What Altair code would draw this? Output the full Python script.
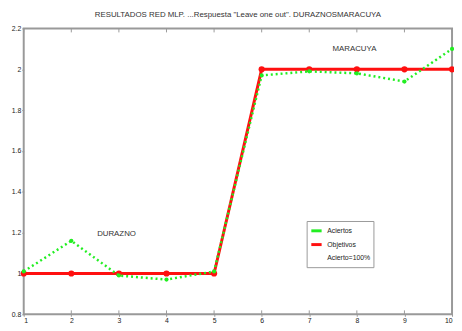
import altair as alt
import pandas as pd

x_vals = [1, 2, 3, 4, 5, 6, 7, 8, 9, 10]
aciertos = [1.01, 1.16, 0.99, 0.97, 1.01, 1.97, 1.99, 1.98, 1.94, 2.1]
objetivos = [1, 1, 1, 1, 1, 2, 2, 2, 2, 2]
legend_names = ["Aciertos", "Objetivos", "Acierto=100%"]
legend_colors = ["#22ee22", "#ff1010", "white"]
labels_txt = ["DURAZNO", "MARACUYA"]
labels_x = [2.95, 7.95]
labels_y = [1.195, 2.1]

df_g = pd.DataFrame({"x": x_vals, "y": aciertos, "s": "Aciertos"})
df_r = pd.DataFrame({"x": x_vals, "y": objetivos, "s": "Objetivos"})
df_t = pd.DataFrame({"x": labels_x, "y": labels_y, "t": labels_txt})
df_ticks = pd.DataFrame({"x": x_vals})

FONT = "Liberation Sans"
H = 291
xs = alt.Scale(domain=[1, 10], nice=False)
ys = alt.Scale(domain=[0.8, 2.2], nice=False)
color = alt.Color(
    "s:N",
    scale=alt.Scale(domain=legend_names, range=legend_colors),
    legend=alt.Legend(
        title=None, orient="none", legendX=288, legendY=196,
        symbolType="stroke", symbolStrokeWidth=3, symbolSize=110,
        labelFont=FONT, labelFontSize=7, labelColor="#222",
        fillColor="white", strokeColor="#999", padding=3, rowPadding=1,
    ),
)
X = alt.X("x:Q", scale=xs, axis=alt.Axis(values=x_vals, title=None, grid=False,
          labelFont=FONT, labelFontSize=7, tickSize=2, domain=False, labelPadding=0))
Y = alt.Y("y:Q", scale=ys, axis=alt.Axis(values=[0.8, 1, 1.2, 1.4, 1.6, 1.8, 2, 2.2],
          format="~g", title=None, grid=False, labelFont=FONT, labelFontSize=7, tickSize=2,
          domain=False, labelPadding=1))

red_line = alt.Chart(df_r).mark_line(strokeWidth=3).encode(x=X, y=Y, color=color)
red_pts = alt.Chart(df_r).mark_point(filled=True, size=40, opacity=1).encode(x=X, y=Y, color=color)
green_line = alt.Chart(df_g).mark_line(strokeWidth=2.5, strokeDash=[2, 3]).encode(x=X, y=Y, color=color)
green_pts = alt.Chart(df_g).mark_point(filled=True, size=18, opacity=1).encode(x=X, y=Y, color=color)
texts = alt.Chart(df_t).mark_text(font=FONT, fontSize=8, color="#333").encode(
    x=alt.X("x:Q", scale=xs), y=alt.Y("y:Q", scale=ys), text="t:N")
top_ticks = alt.Chart(df_ticks).mark_rule(color="#999").encode(
    x=alt.X("x:Q", scale=xs), y=alt.value(0), y2=alt.value(4))
bot_ticks = alt.Chart(df_ticks).mark_rule(color="#999").encode(
    x=alt.X("x:Q", scale=xs), y=alt.value(H - 4), y2=alt.value(H))

chart = alt.layer(top_ticks, bot_ticks, red_line, red_pts, green_line, green_pts, texts).properties(
    width=436, height=H,
    autosize=alt.AutoSizeParams(type="none"),
    padding={"left": 16, "top": 18, "right": 2, "bottom": 6},
    title=alt.Title('RESULTADOS RED MLP. ...Respuesta "Leave one out". DURAZNOSMARACUYA',
                    font=FONT, fontSize=8, fontWeight="normal", color="#333", offset=6),
).configure_view(stroke="#999", strokeWidth=2).configure_axis(
    tickColor="#999", labelColor="#222")

chart.save("out.html", embed_options={"renderer": "svg", "actions": False})
